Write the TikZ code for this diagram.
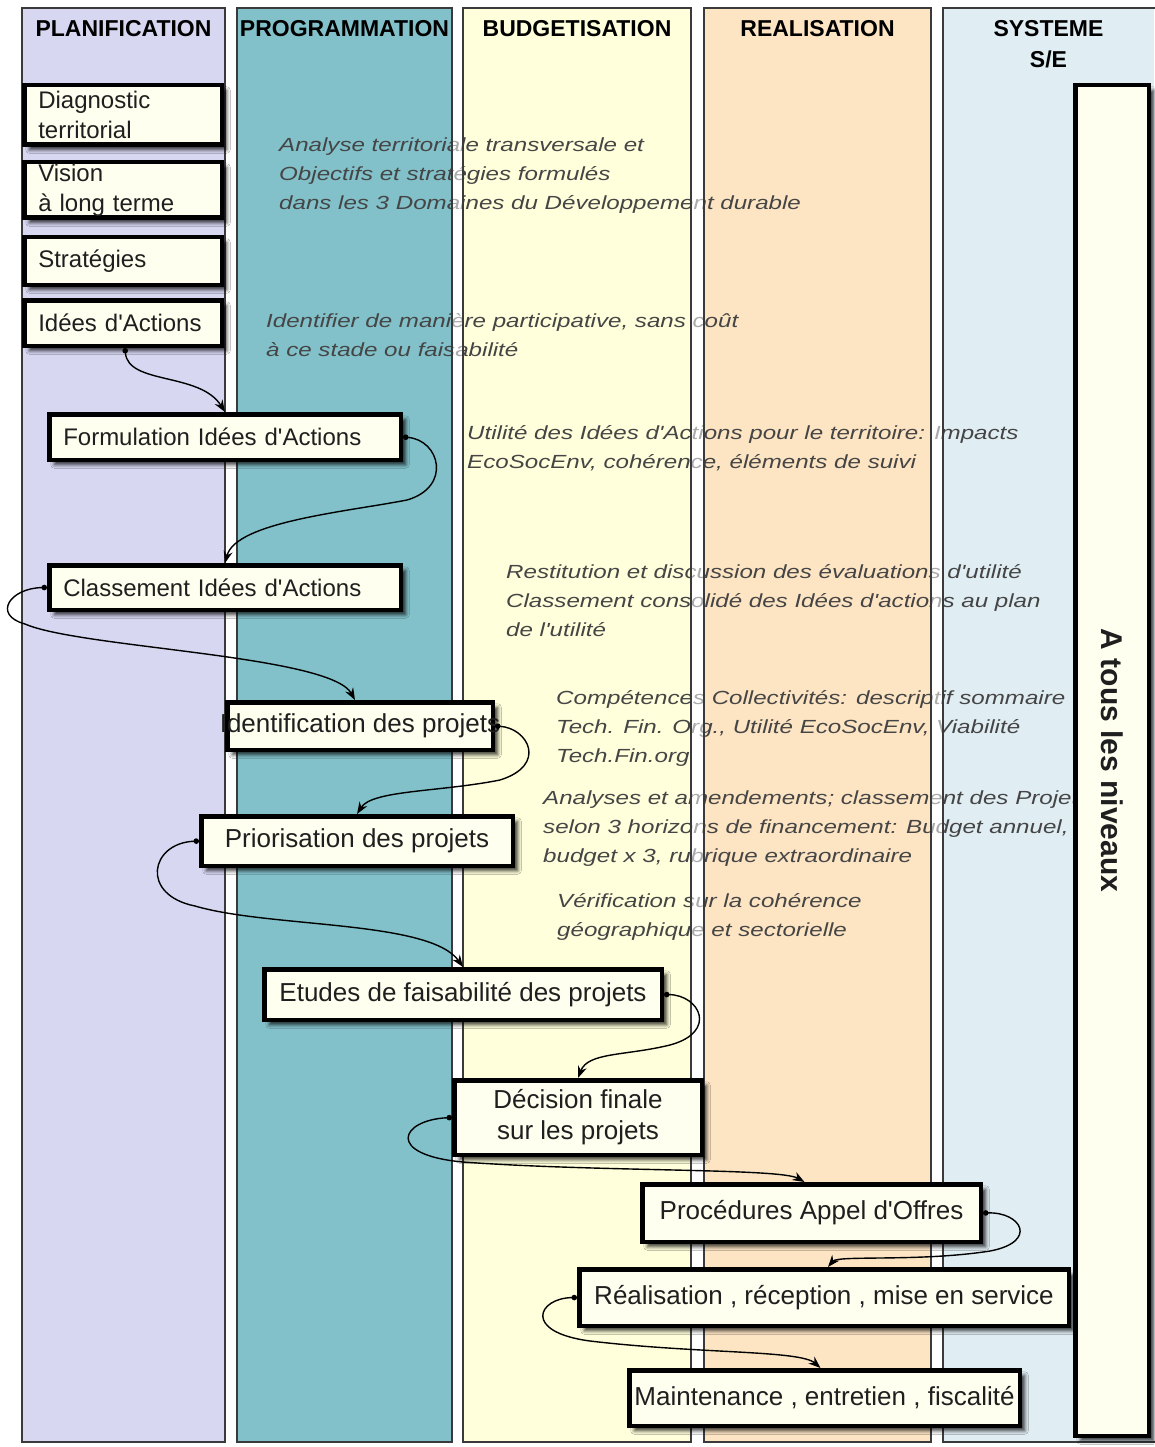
\documentclass[tikz,border=0pt]{standalone}
\usepackage{fontspec}
\setmainfont{Liberation Sans}
\newfontfamily\notefont[FakeStretch=1.27]{Liberation Sans}
\usetikzlibrary{arrows.meta,shadows.blur}

\definecolor{planfill}{HTML}{D7D7F2}
\definecolor{progfill}{HTML}{82C1CA}
\definecolor{budgfill}{HTML}{FFFFDC}
\definecolor{realfill}{HTML}{FDE5C4}
\definecolor{sysfill}{HTML}{E0EDF3}
\definecolor{cardfill}{HTML}{FFFFF0}
\definecolor{notegray}{HTML}{454545}
\definecolor{laneline}{HTML}{3A3A3A}

\begin{document}
\begin{tikzpicture}[x=1pt,y=-1pt,
  lane/.style={draw=laneline, line width=1.3pt},
  lanehead/.style={font=\fontsize{23}{31}\selectfont\bfseries, anchor=north, inner sep=0pt, align=center},
  note/.style={font=\notefont\itshape\fontsize{19}{29}\selectfont, text=notegray, anchor=north west, inner sep=0pt, align=left},
  card/.style={draw=black, line width=4.5pt, fill=cardfill, inner sep=0pt, text=black!88,
    blur shadow={shadow xshift=5pt, shadow yshift=-5pt, shadow blur radius=3.5pt, shadow opacity=75}},
  smallcard/.style={card, font=\fontsize{24}{30}\selectfont, align=left, inner xsep=14pt},
  bigcard/.style={card, font=\fontsize{26}{31}\selectfont, align=center},
  flow/.style={line width=1.4pt, {Circle[length=5.5pt]}-{Stealth[length=12pt,width=9pt]}},
]
\useasboundingbox (0,0) rectangle (1154,1447);
\fill[white] (0,0) rectangle (1154,1447);

% swim lanes
\fill[planfill] (22,8) rectangle (225,1442);
\fill[progfill] (237,8) rectangle (452,1442);
\fill[budgfill] (463,8) rectangle (691,1442);
\fill[realfill] (704,8) rectangle (931,1442);
\fill[sysfill] (943,8) rectangle (1154,1442);

% comments along the process
\node[note] (n1) at (279,130.7) {\strut Analyse territoriale transversale et\\\strut Objectifs et stratégies formulés\\\strut dans les 3 Domaines du Développement durable};
\node[note] (n2) at (266,306.7) {\strut Identifier de manière participative, sans coût\\\strut à ce stade ou faisabilité};
\node[note] (n3) at (467,418.7) {\strut Utilité des Idées d'Actions pour le territoire: Impacts\\\strut EcoSocEnv, cohérence, éléments de suivi};
\node[note] (n4) at (506,557.7) {\strut Restitution et discussion des évaluations d'utilité\\\strut Classement consolidé des Idées d'actions au plan\\\strut de l'utilité};
\node[note] (n5) at (556,683.7) {\strut Compétences Collectivités: descriptif sommaire\\\strut Tech. Fin. Org., Utilité EcoSocEnv, Viabilité\\\strut Tech.Fin.org};
\node[note] (n6) at (543,783.7) {\strut Analyses et amendements; classement des Projets\\\strut selon 3 horizons de financement: Budget annuel,\\\strut budget x 3, rubrique extraordinaire};
\node[note] (n7) at (557,886.7) {\strut Vérification sur la cohérence\\\strut géographique et sectorielle};

% gaps between lanes (partly veiling the comments) and lane outlines
\fill[white, opacity=0.55] (225,8) rectangle (237,1442);
\fill[white, opacity=0.55] (452,8) rectangle (463,1442);
\fill[white, opacity=0.55] (691,8) rectangle (704,1442);
\fill[white, opacity=0.55] (931,8) rectangle (943,1442);
\draw[lane] (22,8) rectangle (225,1442);
\draw[lane] (237,8) rectangle (452,1442);
\draw[lane] (463,8) rectangle (691,1442);
\draw[lane] (704,8) rectangle (931,1442);
\draw[lane] (1156,8) -- (943,8) -- (943,1442) -- (1156,1442);

% lane titles
\node[lanehead] (h1) at (123.5,14.3) {\strut PLANIFICATION};
\node[lanehead] (h2) at (344.5,14.3) {\strut PROGRAMMATION};
\node[lanehead] (h3) at (577,14.3) {\strut BUDGETISATION};
\node[lanehead] (h4) at (817.5,14.3) {\strut REALISATION};
\node[lanehead] (h5) at (1048.5,14.3) {\strut SYSTEME\\\strut S/E};

% planning steps
\node[smallcard, text width=169.5pt, minimum height=59.5pt] (diag) at (123,115) {Diagnostic\\territorial};
\node[smallcard, text width=169.5pt, minimum height=55.5pt] (vision) at (123,190) {Vision\\à long terme};
\node[smallcard, text width=169.5pt, minimum height=47.5pt] (strat) at (123,261) {Stratégies};
\node[smallcard, text width=169.5pt, minimum height=45.5pt] (idees) at (123,323) {Idées d\textquotesingle Actions};
\node[smallcard, text width=323.5pt, minimum height=45.5pt] (form) at (225,437) {Formulation Idées d\textquotesingle Actions};
\node[smallcard, text width=323.5pt, minimum height=44.5pt] (class) at (225,587.5) {Classement Idées d\textquotesingle Actions};

% project steps
\node[bigcard, minimum width=265.5pt, minimum height=47.5pt] (ident) at (360,726) {\makebox[0pt]{Identification des projets}};
\node[bigcard, minimum width=311.5pt, minimum height=49.5pt] (prior) at (357,841) {\makebox[0pt]{Priorisation des projets}};
\node[bigcard, minimum width=397.5pt, minimum height=50.5pt] (etudes) at (463,994.5) {\makebox[0pt]{Etudes de faisabilité des projets}};
\node[bigcard, minimum width=247.5pt, minimum height=74.5pt] (decis) at (578,1117.5) {Décision finale\\sur les projets};
\node[bigcard, minimum width=338.5pt, minimum height=57.5pt] (proc) at (811.5,1213) {\makebox[0pt]{Procédures Appel d\textquotesingle Offres}};
\node[bigcard, minimum width=489.5pt, minimum height=56.5pt] (real) at (824,1297.5) {\makebox[0pt]{Réalisation , réception , mise en service}};
\node[bigcard, minimum width=390.5pt, minimum height=55.5pt] (maint) at (824.5,1398) {\makebox[0pt]{Maintenance , entretien , fiscalité}};

% monitoring bar
\node[card, minimum width=73.5pt, minimum height=1350.5pt, font=\fontsize{30}{36}\selectfont\bfseries] (tous) at (1112,760.5) {\rotatebox{-90}{A tous les niveaux}};

% flow between steps
\draw[flow] ([xshift=2pt]idees.south) .. controls (128,385) and (200,372) .. (form.north);
\draw[flow] (form.east) .. controls (440,440) and (452,487) .. (407,500) .. controls (345,512) and (236,522) .. (class.north);
\draw[flow] (class.west) .. controls (10,588) and (-8,615) .. (25,624) .. controls (80,648) and (330,655) .. ([xshift=-5pt]ident.north);
\draw[flow] (ident.east) .. controls (528,728) and (548,765) .. (500,780) .. controls (440,792) and (372,790) .. (prior.north);
\draw[flow] (prior.west) .. controls (150,843) and (140,895) .. (195,906) .. controls (270,928) and (430,920) .. (etudes.north);
\draw[flow] (etudes.east) .. controls (700,995) and (718,1032) .. (670,1045) .. controls (625,1056) and (588,1052) .. (decis.north);
\draw[flow] (decis.west) .. controls (400,1120) and (385,1155) .. (463,1162) .. controls (600,1172) and (780,1168) .. ([xshift=-7pt]proc.north);
\draw[flow] (proc.east) .. controls (1022,1212) and (1038,1242) .. (990,1251) .. controls (920,1262) and (838,1255) .. ([xshift=4pt]real.north);
\draw[flow] (real.west) .. controls (538,1298) and (522,1332) .. (590,1341) .. controls (700,1354) and (800,1350) .. ([xshift=-4pt]maint.north);
\end{tikzpicture}
\end{document}
